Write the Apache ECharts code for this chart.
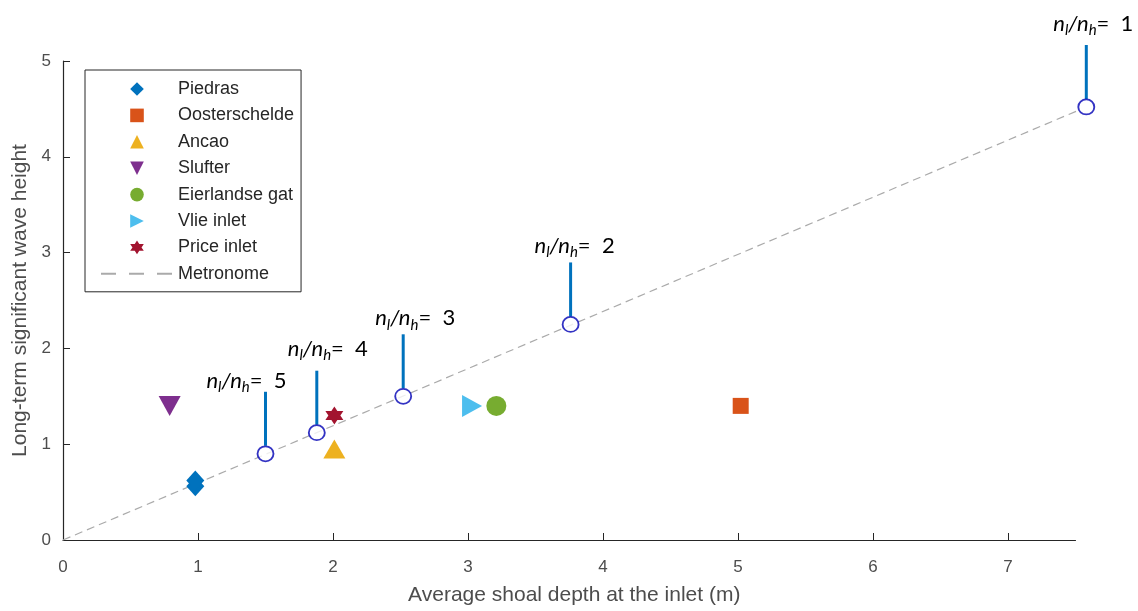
<!DOCTYPE html>
<html>
<head>
<meta charset="utf-8">
<script src="https://cdn.jsdelivr.net/npm/echarts@6/dist/echarts.min.js"></script>
<style>
  html, body { margin: 0; padding: 0; background: #fff; }
  #chart { width: 1138px; height: 611px; }
</style>
</head>
<body>
<div id="chart"></div>
<script>
// Observed inlets: [average shoal depth (m), long-term significant wave height]
const piedras = [[0.98, 0.56], [0.98, 0.62]];
const oosterschelde = [[5.02, 1.4]];
const ancao = [[2.01, 0.95]];
const slufter = [[0.79, 1.4]];
const eierlandse = [[3.21, 1.4]];
const vlie = [[3.03, 1.4]];
const price = [[2.01, 1.3]];

// Metronome runs for each n_l/n_h ratio
const ratioValues = [5, 4, 3, 2, 1];
const ratioDepth = [1.5, 1.88, 2.52, 3.76, 7.58];
const ratioHeight = [0.9, 1.12, 1.5, 2.25, 4.52];
const metronomeLine = [[0, 0], [7.58, 4.52]];

const xTicks = [0, 1, 2, 3, 4, 5, 6, 7];
const yTicks = [0, 1, 2, 3, 4, 5];

// Where each ratio label sits relative to the top of its stem (px)
const ratioLabelShift = [[-19, -11], [11, -22], [12, -16], [4, -17], [7, -21]];

// Six-pointed star used for the Price inlet marker
function hexagramPath() {
  const pts = [];
  const rOut = 1, rIn = 1 / Math.sqrt(3);
  for (let k = 0; k < 12; k++) {
    const a = -Math.PI / 2 + k * Math.PI / 6;
    const r = k % 2 === 0 ? rOut : rIn;
    pts.push((r * Math.cos(a) * 50 + 50).toFixed(2) + ' ' + (r * Math.sin(a) * 50 + 50).toFixed(2));
  }
  return 'path://M' + pts.join(' L') + ' Z';
}

const colors = {
  piedras: '#0072BD', oosterschelde: '#D95319', ancao: '#EDB120', slufter: '#7E2F8E',
  eierlandse: '#77AC30', vlie: '#4DBEEE', price: '#A2142F'
};

function markerSeries(name, data, symbol, size, color) {
  return {
    name, type: 'line', data, symbol, symbolSize: size, showSymbol: true,
    lineStyle: { opacity: 0 }, itemStyle: { color }, z: 4, clip: false,
    emphasis: { disabled: true }
  };
}

const chart = echarts.init(document.getElementById('chart'), null, { renderer: 'canvas' });

const tickFont = { fontFamily: 'Liberation Sans', fontSize: 17, color: '#4d4d4d' };
const axisNameFont = { fontFamily: 'Liberation Sans', fontSize: 21, color: '#4d4d4d' };
const ratioRich = {
  i: { fontFamily: 'Lato', fontStyle: 'italic', fontSize: 22, lineHeight: 28, color: '#000' },
  s: { fontFamily: 'Lato', fontStyle: 'italic', fontSize: 15, verticalAlign: 'bottom', color: '#000' },
  r: { fontFamily: 'Lato', fontSize: 22, lineHeight: 28, color: '#000' }
};

chart.setOption({
  animation: false,
  backgroundColor: '#fff',
  grid: { left: 63, right: 62.5, top: 61, bottom: 70, containLabel: false },
  xAxis: {
    type: 'value', min: 0, max: 7.5, interval: 1,
    name: 'Average shoal depth at the inlet (m)', nameLocation: 'middle', nameGap: 45,
    nameTextStyle: Object.assign({ padding: [0, 0, 0, 10] }, axisNameFont),
    axisLine: { show: true, lineStyle: { color: '#262626', width: 1.2 } },
    axisTick: { show: true, inside: true, length: 7, customValues: xTicks, lineStyle: { color: '#262626' } },
    axisLabel: Object.assign({ margin: 19, customValues: xTicks }, tickFont),
    splitLine: { show: false }
  },
  yAxis: {
    type: 'value', min: 0, max: 5, interval: 1,
    name: 'Long-term significant wave height', nameLocation: 'middle', nameGap: 31,
    nameTextStyle: axisNameFont,
    axisLine: { show: true, lineStyle: { color: '#262626', width: 1.2 } },
    axisTick: { show: true, inside: true, length: 7, customValues: yTicks, lineStyle: { color: '#262626' } },
    axisLabel: Object.assign({ margin: 12, customValues: yTicks }, tickFont),
    splitLine: { show: false }
  },
  legend: {
    orient: 'vertical', left: 85, top: 70,
    data: ['Piedras', 'Oosterschelde', 'Ancao', 'Slufter', 'Eierlandse gat', 'Vlie inlet', 'Price inlet', 'Metronome'],
    itemWidth: 72, itemHeight: 17, itemGap: 8.4,
    padding: [10, 7, 9, 15],
    borderColor: '#262626', borderWidth: 1, backgroundColor: '#fff',
    lineStyle: { type: [15, 13] },
    textStyle: { fontFamily: 'Liberation Sans', fontSize: 18, color: '#262626' },
    selectedMode: false
  },
  series: [
    {
      name: 'Metronome', type: 'line', data: metronomeLine, symbol: 'none', clip: false,
      lineStyle: { color: '#aaaaaa', width: 1.2, type: [8, 5] },
      itemStyle: { opacity: 0 }, z: 1, emphasis: { disabled: true }
    },
    markerSeries('Piedras', piedras, 'diamond', [18, 20], colors.piedras),
    markerSeries('Oosterschelde', oosterschelde, 'rect', 16, colors.oosterschelde),
    markerSeries('Ancao', ancao, 'triangle', [22, 19], colors.ancao),
    markerSeries('Slufter', slufter, 'path://M0 0 L100 0 L50 90 Z', [22, 20], colors.slufter),
    markerSeries('Eierlandse gat', eierlandse, 'circle', 20, colors.eierlandse),
    markerSeries('Vlie inlet', vlie, 'path://M0 0 L90 50 L0 100 Z', [20, 22], colors.vlie),
    markerSeries('Price inlet', price, hexagramPath(), 18, colors.price),
    {
      name: 'ratioStems', type: 'custom', clip: false, z: 2,
      data: ratioDepth.map((x, i) => [x, ratioHeight[i], ratioValues[i]]),
      renderItem(params, api) {
        const p = api.coord([api.value(0), api.value(1)]);
        const sh = ratioLabelShift[params.dataIndex];
        const top = p[1] - 62;
        return {
          type: 'group',
          children: [
            { type: 'line', shape: { x1: p[0], y1: p[1] - 8, x2: p[0], y2: top },
              style: { stroke: '#0072BD', lineWidth: 3 } },
            { type: 'text', x: p[0] + sh[0], y: top + sh[1],
              style: { text: '{i|n}{s|l}{i|/n}{s|h}{r|=  ' + api.value(2) + '}',
                       align: 'center', verticalAlign: 'middle', rich: ratioRich } }
          ]
        };
      }
    },
    {
      name: 'ratioPoints', type: 'scatter', clip: false, z: 3,
      data: ratioDepth.map((x, i) => [x, ratioHeight[i]]),
      symbol: 'circle', symbolSize: [16, 15],
      itemStyle: { color: '#fff', borderColor: '#0000b4', borderWidth: 1.8 },
      emphasis: { disabled: true }
    }
  ]
});
</script>
</body>
</html>
